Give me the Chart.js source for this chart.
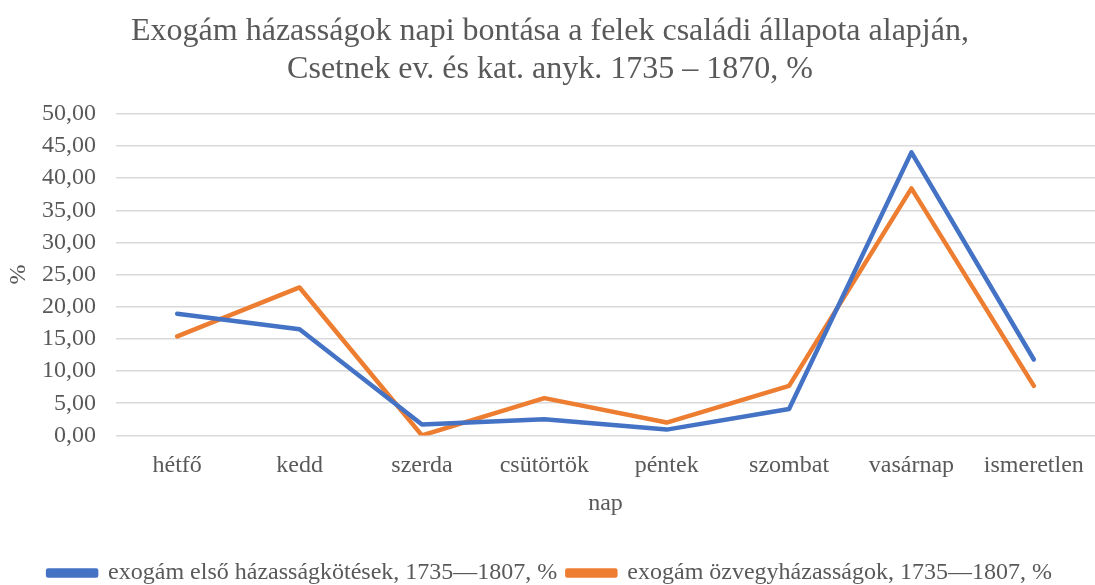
<!DOCTYPE html>
<html>
<head>
<meta charset="utf-8">
<script src="https://cdn.jsdelivr.net/npm/chart.js@4/dist/chart.umd.min.js"></script>
<style>
  html, body { margin: 0; padding: 0; background: #fff; overflow: hidden; }
  #wrap { width: 1095px; height: 585px; }
</style>
</head>
<body>
<div id="wrap"><canvas id="chart" width="1095" height="585"></canvas></div>
<script>
// Chart data
const days = ["hétfő", "kedd", "szerda", "csütörtök", "péntek", "szombat", "vasárnap", "ismeretlen"];
const firstMarriages = [18.9, 16.5, 1.7, 2.5, 0.9, 4.1, 44.0, 11.8];
const widowMarriages = [15.4, 23.0, 0.0, 5.8, 2.0, 7.7, 38.4, 7.7];
const seriesLabels = [
  "exogám első házasságkötések, 1735—1807, %",
  "exogám özvegyházasságok, 1735—1807, %"
];
const titleLines = [
  "Exogám házasságok napi bontása a felek családi állapota alapján,",
  "Csetnek ev. és kat. anyk. 1735 – 1870, %"
];

const FONT = "'Liberation Serif', 'Times New Roman', serif";
const GREY = "#595959";
const BLUE = "#4472C4";
const ORANGE = "#ED7D31";

Chart.defaults.font.family = FONT;
Chart.defaults.color = GREY;

const ctx = document.getElementById("chart").getContext("2d");
new Chart(ctx, {
  type: "line",
  data: {
    labels: days,
    datasets: [
      {
        label: seriesLabels[0],
        data: firstMarriages,
        borderColor: BLUE,
        backgroundColor: BLUE,
        borderWidth: 4.5,
        borderCapStyle: "round",
        borderJoinStyle: "round",
        pointRadius: 0,
        tension: 0,
      },
      {
        label: seriesLabels[1],
        data: widowMarriages,
        borderColor: ORANGE,
        backgroundColor: ORANGE,
        borderWidth: 4.5,
        borderCapStyle: "round",
        borderJoinStyle: "round",
        pointRadius: 0,
        tension: 0,
      },
    ],
  },
  options: {
    responsive: false,
    animation: false,
    // negative padding lets the plot run to the right edge like the original
    layout: { padding: { left: 0, right: -5, top: 0, bottom: -10 } },
    plugins: {
      title: {
        display: true,
        text: titleLines,
        color: GREY,
        font: { size: 32, weight: "normal", family: FONT, lineHeight: 1.2 },
        padding: { top: 12, bottom: 25 },
      },
      legend: {
        position: "bottom",
        labels: {
          color: GREY,
          font: { size: 24, family: FONT, lineHeight: 1 },
          boxWidth: 48,
          boxHeight: 5,
          padding: 10,
        },
      },
      tooltip: { enabled: false },
    },
    scales: {
      x: {
        offset: true,
        grid: { display: false, drawTicks: false },
        border: { display: false },
        ticks: { color: GREY, font: { size: 24, family: FONT }, padding: 16, maxRotation: 0 },
        title: {
          display: true,
          text: "nap",
          color: GREY,
          font: { size: 24, family: FONT },
          padding: { top: -7, bottom: 33 },
        },
        afterFit: (scale) => { scale.paddingRight = 0; scale.paddingLeft = 0; },
      },
      y: {
        min: 0,
        max: 50,
        grid: { color: "#d9d9d9", lineWidth: 1.5, drawTicks: false },
        border: { display: false },
        ticks: {
          stepSize: 5,
          color: GREY,
          font: { size: 24, family: FONT },
          padding: 20,
          callback: (v) => v.toFixed(2).replace(".", ","),
        },
        title: {
          display: true,
          text: "%",
          color: GREY,
          font: { size: 24, family: FONT },
          padding: { top: 4, bottom: 0 },
        },
        afterFit: (scale) => { scale.width = 116; },
      },
    },
  },
});
</script>
</body>
</html>
